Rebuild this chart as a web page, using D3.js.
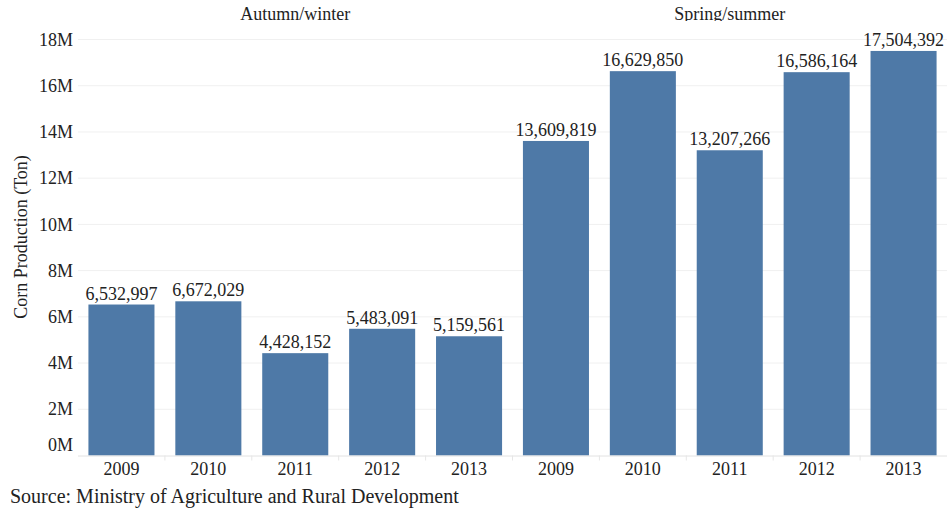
<!DOCTYPE html>
<html>
<head>
<meta charset="utf-8">
<script src="https://cdn.jsdelivr.net/npm/d3@7"></script>
<style>
  html, body { margin: 0; padding: 0; background: #fff; }
  svg { display: block; font-family: "Liberation Serif", "Times New Roman", serif; }
</style>
</head>
<body>
<svg id="chart" width="947" height="510"></svg>
<script>
// Corn production by season and year (tons)
const seasons = ["Autumn/winter", "Spring/summer"];
const years = ["2009", "2010", "2011", "2012", "2013"];
const autumnWinter = [6532997, 6672029, 4428152, 5483091, 5159561];
const springSummer = [13609819, 16629850, 13207266, 16586164, 17504392];
const yTicks = [0, 2e6, 4e6, 6e6, 8e6, 10e6, 12e6, 14e6, 16e6, 18e6];
const yTitle = "Corn Production (Ton)";
const sourceNote = "Source: Ministry of Agriculture and Rural Development";

const rows = [];
seasons.forEach((s, si) => {
  const vals = si === 0 ? autumnWinter : springSummer;
  years.forEach((yr, i) => rows.push({ season: s, year: yr, value: vals[i], key: s + "|" + yr }));
});

const svg = d3.select("#chart");
const plotLeft = 78, plotRight = 947, plotTop = 39.5, plotBottom = 455.5;

const x = d3.scaleBand()
  .domain(rows.map(d => d.key))
  .range([plotLeft, plotRight])
  .paddingInner(0.24)
  .paddingOuter(0.12);

const y = d3.scaleLinear().domain([0, 18e6]).range([plotBottom, plotTop]);

const fmt = d3.format(",");

// Gridlines
svg.append("g").selectAll("line")
  .data(yTicks.filter(t => t > 0))
  .join("line")
  .attr("x1", plotLeft).attr("x2", plotRight)
  .attr("y1", d => y(d)).attr("y2", d => y(d))
  .attr("stroke", "#f0f0f0").attr("stroke-width", 1);

// Y tick labels
svg.append("g").selectAll("text")
  .data(yTicks)
  .join("text")
  .attr("x", 73)
  .attr("y", d => y(d))
  .attr("dy", d => d === 0 ? "-0.25em" : "0.34em")
  .attr("text-anchor", "end")
  .attr("font-size", 18)
  .attr("fill", "#222")
  .text(d => (d / 1e6) + "M");

// Y axis title
svg.append("text")
  .attr("transform", `translate(27,237) rotate(-90)`)
  .attr("text-anchor", "middle")
  .attr("font-size", 18)
  .attr("fill", "#222")
  .text(yTitle);

// Bars
svg.append("g").selectAll("rect")
  .data(rows)
  .join("rect")
  .attr("x", d => x(d.key))
  .attr("width", x.bandwidth())
  .attr("y", d => y(d.value))
  .attr("height", d => y(0) - y(d.value))
  .attr("fill", "#4e79a7");

// Value labels
svg.append("g").selectAll("text")
  .data(rows)
  .join("text")
  .attr("x", d => x(d.key) + x.bandwidth() / 2)
  .attr("y", d => y(d.value) - 5)
  .attr("text-anchor", "middle")
  .attr("font-size", 18)
  .attr("fill", "#222")
  .text(d => fmt(d.value));

// Baseline and separators between bands
svg.append("line")
  .attr("x1", plotLeft).attr("x2", plotRight)
  .attr("y1", plotBottom + 0.5).attr("y2", plotBottom + 0.5)
  .attr("stroke", "#e2e2e2");
const step = x.step();
svg.append("g").selectAll("line")
  .data(rows.slice(1))
  .join("line")
  .attr("x1", d => x(d.key) - (step - x.bandwidth()) / 2)
  .attr("x2", d => x(d.key) - (step - x.bandwidth()) / 2)
  .attr("y1", plotBottom).attr("y2", plotBottom + 5)
  .attr("stroke", "#e6e6e6");

// X tick labels (years)
svg.append("g").selectAll("text")
  .data(rows)
  .join("text")
  .attr("x", d => x(d.key) + x.bandwidth() / 2)
  .attr("y", 475)
  .attr("text-anchor", "middle")
  .attr("font-size", 18)
  .attr("fill", "#222")
  .text(d => d.year);

// Season headers, clipped along the top edge of the panel
svg.append("clipPath").attr("id", "hdrClip")
  .append("rect").attr("x", 0).attr("y", 0).attr("width", 947).attr("height", 21);
const groupX = s => {
  const ks = rows.filter(r => r.season === s);
  const a = x(ks[0].key) - (step - x.bandwidth()) / 2;
  const b = x(ks[ks.length - 1].key) + x.bandwidth() + (step - x.bandwidth()) / 2;
  return (a + b) / 2;
};
svg.append("g").attr("clip-path", "url(#hdrClip)").selectAll("text")
  .data(seasons)
  .join("text")
  .attr("x", d => groupX(d))
  .attr("y", 20)
  .attr("text-anchor", "middle")
  .attr("font-size", 18)
  .attr("fill", "#222")
  .text(d => d);

// Source note
svg.append("text")
  .attr("x", 10)
  .attr("y", 503)
  .attr("font-size", 20)
  .attr("fill", "#222")
  .text(sourceNote);
</script>
</body>
</html>
